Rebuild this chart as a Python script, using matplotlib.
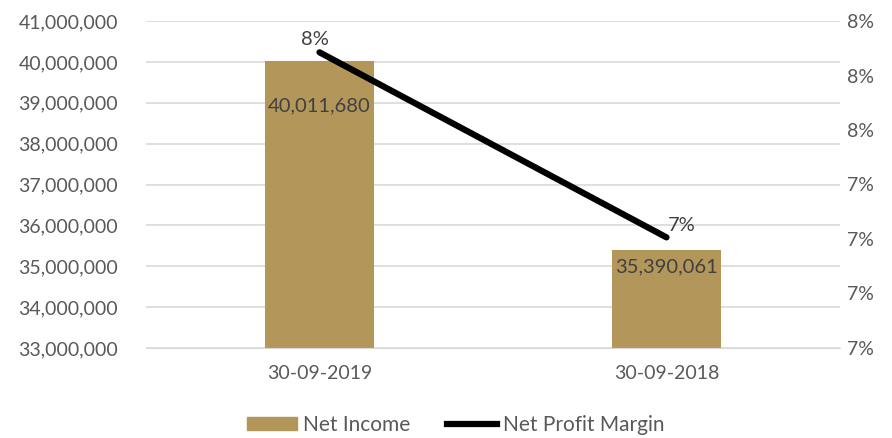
import matplotlib.pyplot as plt
from matplotlib.ticker import FuncFormatter, MultipleLocator
from matplotlib.patches import Patch
from matplotlib.lines import Line2D

categories = ['30-09-2019', '30-09-2018']
net_income = [40011680, 35390061]
net_margin = [0.07885, 0.07206]

bar_color = '#B3965A'
text_color = '#595959'
label_color = '#404040'
plt.rcParams['font.family'] = ['Lato', 'DejaVu Sans']

fig = plt.figure(figsize=(8.92, 4.38), dpi=100)
ax = fig.add_axes([146/892, 1 - 348/438, 694/892, 327/438])
ax2 = ax.twinx()

x = range(len(categories))
ax.bar(x, net_income, width=0.314, color=bar_color, zorder=2)
ax.set_xlim(-0.5, 1.5)
ax.set_ylim(33000000, 41000000)
ax.yaxis.set_major_locator(MultipleLocator(1000000))
ax.yaxis.set_major_formatter(FuncFormatter(lambda v, p: f'{v:,.0f}'))
ax.set_xticks(list(x))
ax.set_xticklabels(categories)
ax.grid(axis='y', color='#D9D9D9', linewidth=1.2, zorder=0)
ax.set_axisbelow(True)
for s in list(ax.spines.values()) + list(ax2.spines.values()):
    s.set_visible(False)
ax.spines['bottom'].set_visible(True)
ax.spines['bottom'].set_color('#D9D9D9')
ax.tick_params(axis='both', length=0, colors=text_color, labelsize=14)
ax.tick_params(axis='x', pad=12)
ax.tick_params(axis='y', pad=20)

# bar labels (inside end)
bar_offsets = [-44, -17]
for i, v in enumerate(net_income):
    ax.annotate(f'{v:,.0f}', (i, v), xytext=(0, bar_offsets[i]),
                textcoords='offset pixels', ha='center', va='center',
                fontsize=14.5, color=label_color, zorder=3)

ax2.plot(list(x), net_margin, color='black', linewidth=4.5,
         solid_capstyle='round', zorder=4)
ax2.set_ylim(0.068, 0.080)
ax2.yaxis.set_major_locator(MultipleLocator(0.002))
ax2.yaxis.set_major_formatter(FuncFormatter(lambda v, p: f'{round(v * 100 + 1e-9):.0f}%'))
ax2.tick_params(axis='y', length=0, colors=text_color, labelsize=14, pad=5)

margin_offsets = [(-5, 13), (15, 12)]
for i, v in enumerate(net_margin):
    ax2.annotate(f'{v*100:.0f}%', (i, v), xytext=margin_offsets[i],
                 textcoords='offset pixels', ha='center', va='center',
                 fontsize=14.5, color=label_color)

handles = [Patch(color=bar_color, label='Net Income'),
           Line2D([0], [0], color='black', linewidth=4.5, label='Net Profit Margin')]
fig.legend(handles=handles, loc='center', bbox_to_anchor=(0.511, 1 - 425/438),
           ncol=2, frameon=False, fontsize=15, labelcolor=text_color,
           handlelength=2.4, handleheight=0.6, handletextpad=0.25, columnspacing=1.8)

fig.savefig('out.png', dpi=100)
